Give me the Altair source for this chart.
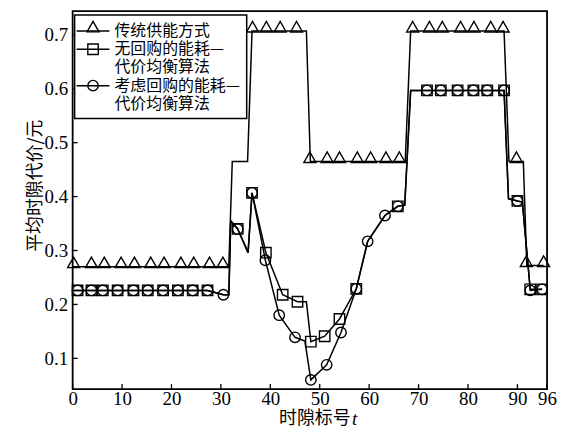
import altair as alt
import pandas as pd

series_names = ["传统供能方式", "无回购的能耗—|代价均衡算法", "考虑回购的能耗—|代价均衡算法"]

# ---- line vertices ----
trad_t = [0, 31.6, 32.3, 35.4, 36.3, 47.3, 48.1, 67.3, 68.4, 87.3, 88.3, 91.2, 91.9, 95.3]
trad_v = [0.270, 0.270, 0.465, 0.465, 0.707, 0.707, 0.465, 0.465, 0.707, 0.707, 0.465, 0.465, 0.272, 0.272]

nobuy_t = [0.2, 27.3, 30.5, 31.6, 32.0, 33.4, 35.5, 36.3, 39.1, 42.5, 45.5, 47.3, 48.2, 51.0, 54.0,
           57.4, 59.7, 63.2, 65.8, 67.2, 68.4, 87.3, 88.2, 90.0, 91.0, 92.6, 95.0]
nobuy_v = [0.226, 0.226, 0.218, 0.218, 0.355, 0.340, 0.296, 0.407, 0.296, 0.218, 0.205, 0.205, 0.131, 0.141, 0.173,
           0.229, 0.317, 0.365, 0.382, 0.384, 0.597, 0.597, 0.396, 0.392, 0.390, 0.228, 0.228]

buy_t = [0.2, 27.3, 30.5, 31.6, 32.0, 33.4, 35.5, 36.3, 39.0, 41.8, 45.0, 47.0, 48.2, 51.4, 54.3,
         57.4, 59.7, 63.2, 65.8, 67.2, 68.4, 87.3, 88.2, 90.0, 91.0, 92.6, 95.0]
buy_v = [0.226, 0.226, 0.218, 0.218, 0.355, 0.340, 0.296, 0.407, 0.282, 0.180, 0.139, 0.132, 0.060, 0.088, 0.148,
         0.229, 0.317, 0.365, 0.382, 0.384, 0.597, 0.597, 0.396, 0.392, 0.390, 0.226, 0.228]

# ---- marker positions ----
trad_mt = [0.2, 3.8, 6.4, 9.8, 12.5, 15.8, 18.5, 21.9, 24.5, 27.7, 30.4,
           36.4, 39.2, 42.0, 45.3,
           48.0, 51.5, 54.0, 57.6, 60.3, 63.4, 66.1,
           68.8, 72.2, 74.8, 78.5, 81.2, 84.6, 87.1,
           89.8, 91.8, 95.3]
trad_mv = [0.270, 0.270, 0.270, 0.270, 0.270, 0.270, 0.270, 0.270, 0.270, 0.270, 0.270,
           0.707, 0.707, 0.707, 0.707,
           0.465, 0.465, 0.465, 0.465, 0.465, 0.465, 0.465,
           0.707, 0.707, 0.707, 0.707, 0.707, 0.707, 0.707,
           0.465, 0.272, 0.272]

nobuy_mt = [1.0, 3.8, 6.1, 9.1, 12.3, 15.2, 18.3, 21.3, 24.3, 27.3,
            33.4, 36.3, 39.1, 42.5, 45.5, 48.2, 51.0, 54.0, 57.4, 65.8,
            71.7, 74.5, 77.9, 81.1, 83.9, 87.3, 90.0, 92.6, 95.0]
nobuy_mv = [0.226, 0.226, 0.226, 0.226, 0.226, 0.226, 0.226, 0.226, 0.226, 0.226,
            0.340, 0.407, 0.296, 0.218, 0.205, 0.131, 0.141, 0.173, 0.229, 0.382,
            0.597, 0.597, 0.597, 0.597, 0.597, 0.597, 0.392, 0.228, 0.228]

buy_mt = [1.0, 3.8, 6.1, 9.1, 12.3, 15.2, 18.3, 21.3, 24.3, 27.3, 30.5,
          33.4, 36.3, 39.0, 41.8, 45.0, 48.2, 51.4, 54.3, 57.4, 59.7, 63.2, 65.8,
          71.7, 74.5, 77.9, 81.1, 83.9, 87.3, 90.0, 92.6, 95.0]
buy_mv = [0.226, 0.226, 0.226, 0.226, 0.226, 0.226, 0.226, 0.226, 0.226, 0.226, 0.218,
          0.340, 0.407, 0.282, 0.180, 0.139, 0.060, 0.088, 0.148, 0.229, 0.317, 0.365, 0.382,
          0.597, 0.597, 0.597, 0.597, 0.597, 0.597, 0.392, 0.226, 0.228]

x_ticks = [0, 10, 20, 30, 40, 50, 60, 70, 80, 90, 96]
y_ticks = [0.1, 0.2, 0.3, 0.4, 0.5, 0.6, 0.7]

x_title = "时隙标号"
x_title_var = "t"
y_title = "平均时隙代价/元"

# ---- tables ----
line_rows = []
for name, ts, vs in zip(series_names, [trad_t, nobuy_t, buy_t], [trad_v, nobuy_v, buy_v]):
    for i, (t, v) in enumerate(zip(ts, vs)):
        line_rows.append({"series": name, "t": t, "v": v, "idx": i})
line_df = pd.DataFrame(line_rows)

mark_rows = []
for name, ts, vs in zip(series_names, [trad_mt, nobuy_mt, buy_mt], [trad_mv, nobuy_mv, buy_mv]):
    for t, v in zip(ts, vs):
        mark_rows.append({"series": name, "t": t, "v": v})
mark_df = pd.DataFrame(mark_rows)

W, H = 477, 380
SERIF = "Times New Roman, Liberation Serif, DejaVu Serif, serif"
CJK = "Noto Sans CJK SC"

xscale = alt.Scale(domain=[0, 96], nice=False, zero=False)
yscale = alt.Scale(domain=[0.043, 0.744], nice=False, zero=False)

xaxis = alt.Axis(values=x_ticks, labelFont=SERIF, labelFontSize=19, labelColor="black",
                 labelPadding=1, labelFlush=False, labelOverlap=False,
                 title=x_title, titleFont=CJK, titleFontSize=18, titleFontWeight="normal",
                 titleColor="black", titleX=243, titleY=30, titleAlign="center", titleBaseline="middle")
yaxis = alt.Axis(values=y_ticks, format=".1f", labelFont=SERIF, labelFontSize=19, labelColor="black",
                 labelPadding=5, labelFlush=False,
                 title=y_title, titleFont=CJK, titleFontSize=18, titleFontWeight="normal",
                 titleColor="black", titleX=-37, titleY=175, titleAngle=270,
                 titleAlign="center", titleBaseline="middle")

X = alt.X("t:Q", scale=xscale, axis=xaxis)
Y = alt.Y("v:Q", scale=yscale, axis=yaxis)

lines = alt.Chart(line_df).mark_line(color="black", strokeWidth=1.5).encode(
    x=X, y=Y, detail="series:N", order="idx:Q"
)

tri_path = "M-1.15,0.17L1.15,0.17L0,-1.85Z"
shape_range = [tri_path, "square", "circle"]
points = alt.Chart(mark_df).mark_point(filled=False, color="black", strokeWidth=1.4, opacity=1, size=110).encode(
    x=X, y=Y,
    shape=alt.Shape("series:N", scale=alt.Scale(domain=series_names, range=shape_range), legend=None),
)

xt_df = pd.DataFrame({"t": x_ticks})
yt_df = pd.DataFrame({"v": y_ticks})
xtick_layer = alt.Chart(xt_df).mark_rule(color="black", strokeWidth=1.3).encode(
    x=X, y=alt.value(H), y2=alt.value(H - 5)
)
ytick_layer = alt.Chart(yt_df).mark_rule(color="black", strokeWidth=1.3).encode(
    y=Y, x=alt.value(0), x2=alt.value(5)
)

one = pd.DataFrame({"k": [0]})
# italic variable "t" following the x-axis title
t_var = alt.Chart(one).mark_text(align="left", baseline="middle", font=SERIF, fontSize=19,
                                 fontStyle="italic", color="black").encode(
    x=alt.value(281), y=alt.value(H + 30), text=alt.value(x_title_var))

# ---- legend (drawn inside the plot, top-left) ----
LX0, LX1, LY0, LY1 = 2, 175, 4, 108
SYM_X0, SYM_X1, SYM_CX, TXT_X = 4, 37, 20.5, 42
LINE0, LSTEP = 20, 18.3
legend_layers = [
    alt.Chart(one).mark_rect(fill="white", stroke="black", strokeWidth=1.5).encode(
        x=alt.value(LX0), x2=alt.value(LX1), y=alt.value(LY0), y2=alt.value(LY1))
]
line_no = 0
for name, shp in zip(series_names, shape_range):
    parts = name.split("|")
    ys = LINE0 + LSTEP * line_no
    legend_layers.append(
        alt.Chart(one).mark_rule(color="black", strokeWidth=1.5).encode(
            x=alt.value(SYM_X0), x2=alt.value(SYM_X1), y=alt.value(ys)))
    legend_layers.append(
        alt.Chart(one).mark_point(filled=False, color="black", strokeWidth=1.4, opacity=1, size=110,
                                  shape=shp).encode(x=alt.value(SYM_CX), y=alt.value(ys)))
    for p in parts:
        legend_layers.append(
            alt.Chart(one).mark_text(align="left", baseline="middle", font=CJK, fontSize=16,
                                     color="black").encode(
                x=alt.value(TXT_X), y=alt.value(LINE0 + LSTEP * line_no), text=alt.value(p)))
        line_no += 1

chart = alt.layer(xtick_layer, ytick_layer, lines, points, t_var, *legend_layers).properties(
    width=W, height=H,
    autosize=alt.AutoSizeParams(type="none"),
    padding={"left": 65, "top": 2, "right": 10, "bottom": 41},
).configure_view(
    stroke="black", strokeWidth=1.8
).configure_axis(
    domain=False, ticks=False, grid=False
)

chart.save("out.html", embed_options={"renderer": "svg", "actions": False})
